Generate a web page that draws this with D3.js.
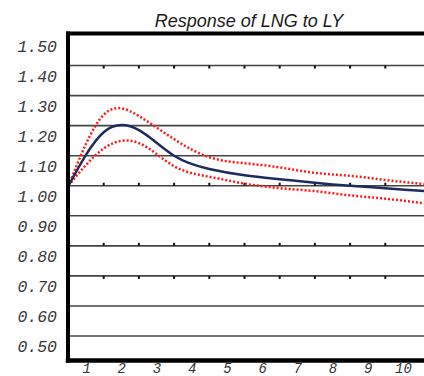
<!DOCTYPE html>
<html>
<head>
<meta charset="utf-8">
<script src="https://cdn.jsdelivr.net/npm/d3@7"></script>
<style>
  html, body { margin: 0; padding: 0; background: #fff; overflow: hidden; }
  svg { display: block; }
</style>
</head>
<body>
<script>
// Impulse response of LNG to a shock in LY, with error bands
const steps    = [1, 2, 3, 4, 5, 6, 7, 8, 9, 10, 11, 12];
const response = [1.000, 1.178, 1.185, 1.100, 1.056, 1.035, 1.022, 1.010, 1.000, 0.992, 0.983, 0.975];
const upperBand = [1.000, 1.236, 1.232, 1.155, 1.095, 1.075, 1.061, 1.043, 1.033, 1.019, 1.007, 0.996];
const lowerBand = [1.000, 1.124, 1.142, 1.065, 1.030, 1.007, 0.992, 0.982, 0.968, 0.957, 0.943, 0.930];
const yTicks = [1.50, 1.40, 1.30, 1.20, 1.10, 1.00, 0.90, 0.80, 0.70, 0.60, 0.50];
const xLabels = ["1", "2", "3", "4", "5", "6", "7", "8", "9", "10"];
const dottedRows = [1.40, 1.00, 0.80, 0.70];
const titleText = "Response of LNG to LY";

const W = 424, H = 376;
const svg = d3.select("body").append("svg").attr("width", W).attr("height", H);

const plotLeft = 68, plotTop = 33.5, plotBottom = 360.5;
const x = d3.scaleLinear().domain([1, 12]).range([68.5, 68.5 + 11 * 35.2]);
const y = d3.scaleLinear().domain([0.5, 1.5]).range([336, 35.5]);

// title
svg.append("text")
  .attr("x", 249).attr("y", 26.5)
  .attr("text-anchor", "middle")
  .style("font-family", "'Liberation Sans', Arial, sans-serif")
  .style("font-style", "italic")
  .style("font-size", "18px")
  .attr("fill", "#1a1a1a")
  .text(titleText);

// horizontal grid
const grid = svg.append("g");
grid.selectAll("line")
  .data(yTicks.filter(v => v < 1.5))
  .join("line")
  .attr("x1", plotLeft).attr("x2", W + 5)
  .attr("y1", d => y(d)).attr("y2", d => y(d))
  .attr("stroke", "#444").attr("stroke-width", 1.6);

// small step marks sitting on some grid rows
const markOffset = { "1.4": 0, "1": -3, "0.8": -3, "0.7": 0 };
dottedRows.forEach(r => {
  grid.append("g").selectAll("rect")
    .data(d3.range(2, 11))
    .join("rect")
    .attr("x", d => x(d) - 1).attr("width", 2)
    .attr("y", y(r) + markOffset[String(r)]).attr("height", 3)
    .attr("fill", "#111");
});

// y axis labels (mono italic, set a little below their grid rows)
const yAxis = d3.axisLeft(y).tickValues(yTicks).tickSize(0).tickFormat(d3.format(".2f"));
const ya = svg.append("g").attr("transform", "translate(57,0)").call(yAxis);
ya.select(".domain").remove();
ya.selectAll("text")
  .attr("x", 0).attr("dy", "0.32em")
  .attr("transform", "translate(0,10.5)")
  .style("font-family", "'Liberation Mono', 'Courier New', monospace")
  .style("font-style", "italic")
  .style("font-size", "16.5px")
  .attr("fill", "#3a3a3a");

// x axis labels, centred in each step interval
const xAxis = d3.axisBottom(x)
  .tickValues(xLabels.map((_, i) => i + 1.5))
  .tickSize(0)
  .tickFormat((d, i) => xLabels[i]);
const xa = svg.append("g").attr("transform", "translate(0,362)").call(xAxis);
xa.select(".domain").remove();
xa.selectAll("text")
  .attr("y", 1).attr("dy", "0.71em")
  .style("font-family", "'Liberation Mono', 'Courier New', monospace")
  .style("font-style", "italic")
  .style("font-size", "14px")
  .attr("fill", "#333");

// curves
svg.append("clipPath").attr("id", "plotClip")
  .append("rect").attr("x", plotLeft).attr("y", plotTop)
  .attr("width", W - plotLeft + 10).attr("height", plotBottom - plotTop);

const line = (vals) => d3.line()
  .x((d, i) => x(steps[i]))
  .y(d => y(d))
  .curve(d3.curveNatural)(vals);

const plot = svg.append("g").attr("clip-path", "url(#plotClip)");
plot.append("path").attr("d", line(upperBand))
  .attr("fill", "none").attr("stroke", "#ff1a1a").attr("stroke-width", 2.5)
  .attr("stroke-dasharray", "2 2");
plot.append("path").attr("d", line(lowerBand))
  .attr("fill", "none").attr("stroke", "#ff1a1a").attr("stroke-width", 2.5)
  .attr("stroke-dasharray", "2 2");
plot.append("path").attr("d", line(response))
  .attr("fill", "none").attr("stroke", "#1d2c5c").attr("stroke-width", 2.5);

// heavy frame: left, top and bottom edges
const frame = svg.append("g").attr("stroke", "#000").attr("stroke-linecap", "square");
frame.append("line").attr("x1", plotLeft).attr("x2", plotLeft).attr("y1", plotTop).attr("y2", plotBottom)
  .attr("stroke-width", 4);
frame.append("line").attr("x1", plotLeft).attr("x2", W + 5).attr("y1", plotTop).attr("y2", plotTop)
  .attr("stroke-width", 4);
frame.append("line").attr("x1", plotLeft).attr("x2", W + 5).attr("y1", plotBottom).attr("y2", plotBottom)
  .attr("stroke-width", 4.5);
</script>
</body>
</html>
